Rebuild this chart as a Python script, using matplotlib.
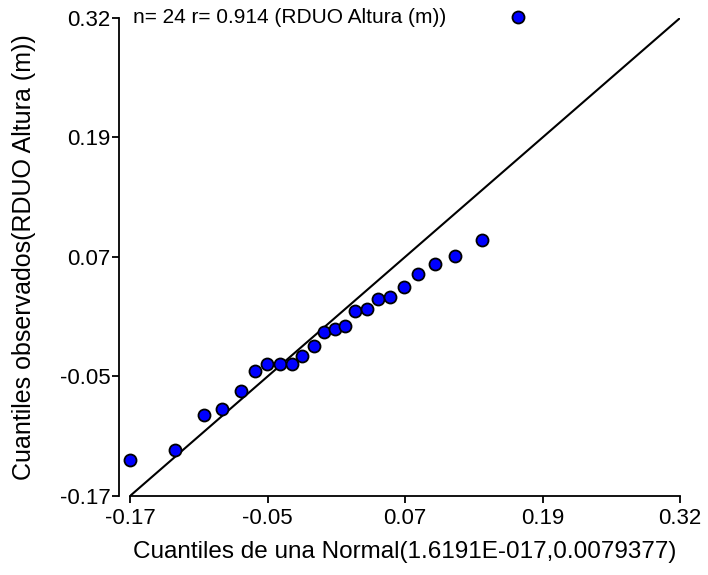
import numpy as np
import matplotlib.pyplot as plt

plt.rcParams['font.family'] = ['Liberation Sans', 'DejaVu Sans']

# cuantiles teoricos (normal) y observados
teoricos = [-0.1696, -0.1296, -0.1039, -0.0876, -0.0712, -0.0586, -0.0480, -0.0368,
            -0.0259, -0.0166, -0.0062, 0.0028, 0.0122, 0.0216, 0.0307, 0.0413,
            0.0507, 0.0613, 0.0742, 0.0867, 0.1015, 0.1197, 0.1433, 0.1754]
observados = [-0.1334, -0.1230, -0.0874, -0.0812, -0.0624, -0.0415, -0.0352, -0.0352,
              -0.0352, -0.0265, -0.0164, -0.0014, 0.0007, 0.0045, 0.0195, 0.0213,
              0.0321, 0.0338, 0.0442, 0.0571, 0.0675, 0.0759, 0.0926, 0.3210]

tick_labels = ['-0.17', '-0.05', '0.07', '0.19', '0.32']
lo, hi = -0.17, 0.32

fig = plt.figure(figsize=(7.08, 5.75), dpi=100)
ax = fig.add_axes([0.1836, 0.1374, 0.9605 - 0.1836, 0.9687 - 0.1374])

ax.plot([lo, hi], [lo, hi], color='black', lw=1.5, zorder=2)
ax.scatter(teoricos, observados, s=75, color='#0000ff', edgecolor='black',
           linewidth=1.3, zorder=3, clip_on=False)

ax.set_xlim(lo, hi)
ax.set_ylim(lo, hi)
ticks = np.linspace(lo, hi, 5)
ax.set_xticks(ticks)
ax.set_xticklabels(tick_labels)
ax.set_yticks(ticks)
ax.set_yticklabels(tick_labels)

for s in ['top', 'right']:
    ax.spines[s].set_visible(False)
ax.spines['left'].set_position(('outward', 8))
ax.spines['left'].set_linewidth(1.3)
ax.spines['bottom'].set_linewidth(1.3)
ax.tick_params(direction='out', length=5, width=1.3, labelsize=16)
ax.tick_params(axis='y', pad=1)
ax.tick_params(axis='x', pad=4)

ax.set_xlabel('Cuantiles de una Normal(1.6191E-017,0.0079377)', fontsize=17.5, labelpad=8)
ax.set_ylabel('Cuantiles observados(RDUO Altura (m))', fontsize=18, labelpad=17)

ax.text(0.005, 1.0, 'n= 24 r= 0.914 (RDUO Altura (m))', transform=ax.transAxes,
        ha='left', va='center', fontsize=15)

fig.savefig('out.png', dpi=100)
